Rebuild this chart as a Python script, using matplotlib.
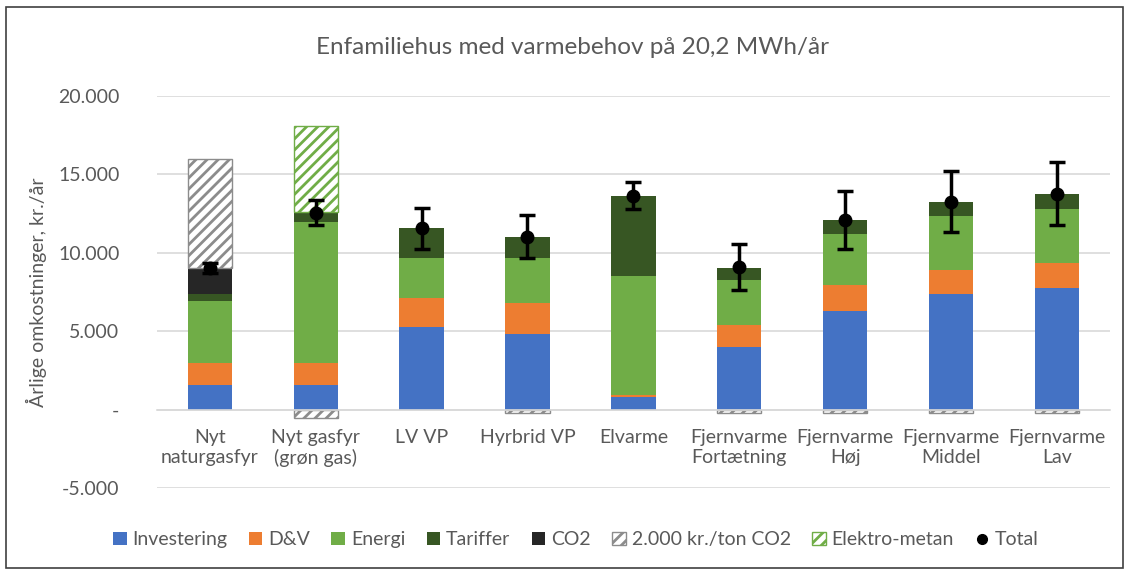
import matplotlib
matplotlib.use("Agg")
import matplotlib.pyplot as plt
import numpy as np
from matplotlib.patches import Rectangle, Patch
from matplotlib.lines import Line2D

plt.rcParams['font.family'] = ['Lato', 'DejaVu Sans']
plt.rcParams['hatch.linewidth'] = 2.0

categories = ["Nyt\nnaturgasfyr", "Nyt gasfyr\n(grøn gas)", "LV VP", "Hyrbrid VP", "Elvarme",
              "Fjernvarme\nFortætning", "Fjernvarme\nHøj", "Fjernvarme\nMiddel", "Fjernvarme\nLav"]
investering = [1600, 1600, 5300, 4800, 800, 3970, 6300, 7370, 7730]
dv = [1400, 1400, 1850, 2000, 150, 1430, 1640, 1530, 1610]
energi = [3950, 9000, 2550, 2900, 7580, 2880, 3290, 3460, 3480]
tariffer = [450, 600, 1910, 1340, 5080, 780, 870, 890, 920]
co2 = [1650, 0, 0, 0, 0, 0, 0, 0, 0]
co2_2000 = [6950, -500, 0, -200, 0, -200, -200, -200, -200]
elektro_metan = [0, 5500, 0, 0, 0, 0, 0, 0, 0]
total = [9050, 12550, 11570, 11040, 13650, 9100, 12120, 13270, 13780]
total_err = [330, 800, 1300, 1350, 850, 1450, 1850, 1950, 2000]

yticks = [-5000, 0, 5000, 10000, 15000, 20000]
ytick_labels = ["-5.000", "-", "5.000", "10.000", "15.000", "20.000"]

c_inv = "#4472C4"
c_dv = "#ED7D31"
c_en = "#70AD47"
c_tar = "#375623"
c_co2 = "#262626"
c_hatch = "#8c8c8c"
txt = "#595959"

fig = plt.figure(figsize=(11.29, 5.75), dpi=100)
ax = fig.add_axes([0.139, 0.151, 0.844, 0.682])

x = np.arange(len(categories))
w = 0.42


def draw(vals, bottoms, **kw):
    v = np.asarray(vals, dtype=float)
    b = np.asarray(bottoms, dtype=float)
    m = v != 0
    ax.bar(x[m], v[m], w, bottom=b[m], zorder=2, **kw)


pos_stack = [investering, dv, energi, tariffer, co2]
pos_cols = [c_inv, c_dv, c_en, c_tar, c_co2]
bottom = np.zeros(len(x))
for vals, col in zip(pos_stack, pos_cols):
    draw(vals, bottom, color=col, linewidth=0)
    bottom += np.asarray(vals, dtype=float)

hv = np.array(co2_2000, dtype=float)
pos_h = np.where(hv > 0, hv, 0)
neg_h = np.where(hv < 0, hv, 0)
draw(pos_h, bottom, facecolor="white", edgecolor=c_hatch, hatch="///", linewidth=1)
bottom += pos_h
draw(neg_h, np.zeros(len(x)), facecolor="white", edgecolor=c_hatch, hatch="///", linewidth=1)
draw(elektro_metan, bottom, facecolor="white", edgecolor=c_en, hatch="///", linewidth=1)

ax.errorbar(x, total, yerr=total_err, fmt='o', color='black', markersize=9,
            elinewidth=2.5, capsize=6, capthick=2.5, zorder=5)

ax.set_ylim(-5000, 20000)
ax.set_xlim(-0.5, len(x) - 0.5)
ax.set_yticks(yticks)
ax.set_yticklabels(ytick_labels)
ax.set_xticks(x)
ax.set_xticklabels(categories, linespacing=1.35)
ax.grid(axis='y', color='#d9d9d9', linewidth=1.2, zorder=0)
ax.set_axisbelow(True)
for s in ['top', 'right', 'left']:
    ax.spines[s].set_visible(False)
ax.spines['bottom'].set_position(('data', 0))
ax.spines['bottom'].set_color('#d9d9d9')
ax.spines['bottom'].set_linewidth(1.2)
ax.tick_params(axis='y', length=0, pad=27, labelsize=14, labelcolor=txt)
ax.tick_params(axis='x', length=0, pad=14, labelsize=14, labelcolor=txt)
ax.set_ylabel("Årlige omkostninger, kr./år", fontsize=14, color=txt, labelpad=8)

fig.text(0.507, 0.918, "Enfamiliehus med varmebehov på 20,2 MWh/år", ha='center', va='center',
         fontsize=17.5, color=txt)

handles = [
    Patch(facecolor=c_inv, label="Investering"),
    Patch(facecolor=c_dv, label="D&V"),
    Patch(facecolor=c_en, label="Energi"),
    Patch(facecolor=c_tar, label="Tariffer"),
    Patch(facecolor=c_co2, label="CO2"),
    Patch(facecolor="white", edgecolor=c_hatch, hatch="///", label="2.000 kr./ton CO2"),
    Patch(facecolor="white", edgecolor=c_en, hatch="///", label="Elektro-metan"),
    Line2D([], [], marker='o', color='black', linestyle='none', markersize=7, label="Total"),
]
leg = fig.legend(handles=handles, loc='center', bbox_to_anchor=(0.51, 0.061), ncol=8, frameon=False,
                 fontsize=14, handlelength=0.7, handleheight=0.7, handletextpad=0.3, columnspacing=1.1)
for t in leg.get_texts():
    t.set_color(txt)

fig.patches.append(Rectangle((0.005, 0.012), 0.99, 0.975, transform=fig.transFigure,
                             fill=False, edgecolor='#404040', linewidth=1.2))

fig.savefig("out.png", dpi=100)
